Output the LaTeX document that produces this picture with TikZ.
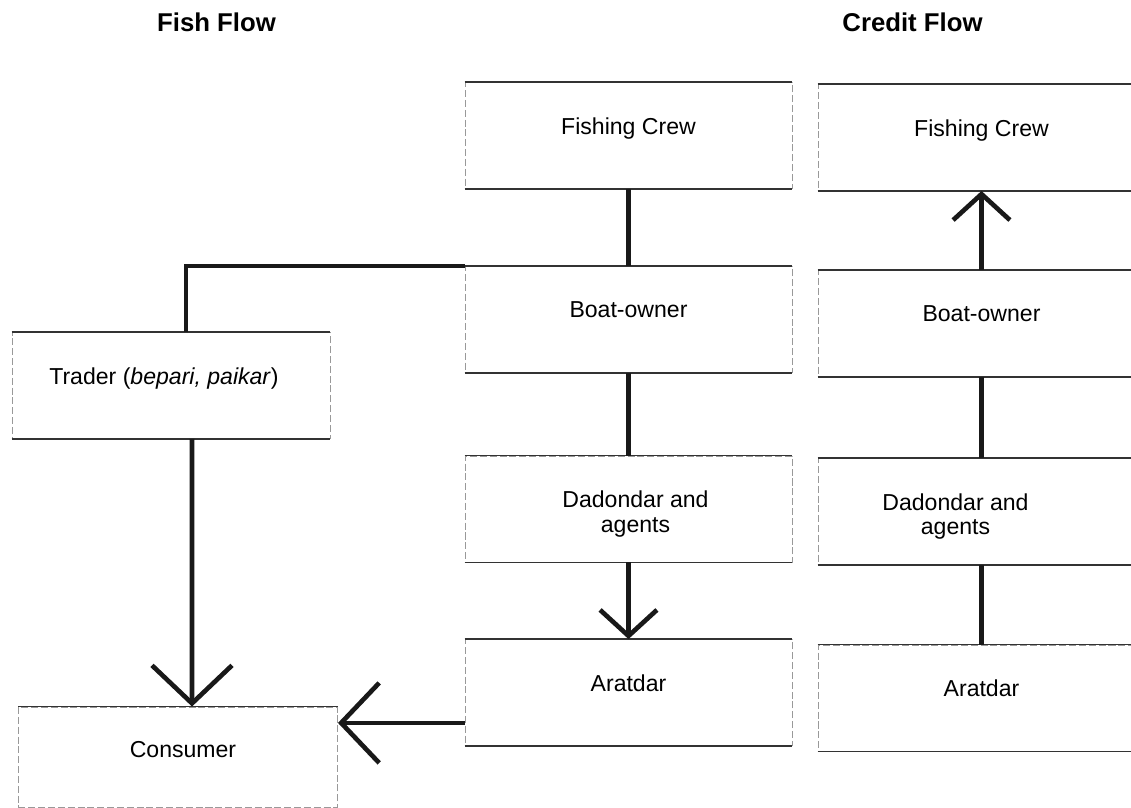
\documentclass[tikz,border=0pt]{standalone}
\usepackage{fontspec}
\setmainfont{Liberation Sans}
\usetikzlibrary{arrows.meta}
\tikzset{
  box/.style={draw=black!40, dash pattern=on 5pt off 2pt, line width=0.6pt, minimum width=8.175cm, minimum height=2.65cm, inner sep=0pt},
  boxtext/.style={anchor=north, yshift=-0.875cm, inner sep=0pt, align=center, font=\fontsize{16.4}{17.5}\selectfont},
  rule/.style={black!80, line width=1.3pt},
  link/.style={black!90, line width=3.3pt},
  bigtip/.style={-{Straight Barb[length=0.95cm, width=2cm]}},
  smalltip/.style={-{Straight Barb[length=0.65cm, width=1.42cm]}},
  title/.style={anchor=base, font=\bfseries\fontsize{18.3}{22}\selectfont}
}

\begin{document}
\begin{tikzpicture}[x=0.025cm, y=-0.025cm]
\path[use as bounding box, clip] (0,0) rectangle (1131,808);
%\draw[step=100,gray,very thin] (0,0) grid (1131,808);
\node[title] (fishttl) at (216.5,32) {Fish Flow};
\node[title] (credttl) at (912.5,32) {Credit Flow};
% fish flow
\node[box, label={[boxtext]north:Fishing Crew}] (lfc) at (628.5,135.5) {};
\node[box, label={[boxtext]north:Boat-owner}] (lbo) at (628.5,319.5) {};
\node[box, label={[boxtext, xshift=0.175cm]north:{Dadondar and\\agents}}] (lda) at (628.5,509) {};
\node[box, label={[boxtext]north:Aratdar}] (lar) at (628.5,692.5) {};
\node[box, minimum width=7.95cm, label={[boxtext, xshift=-0.175cm]north:{Trader (\textit{bepari, paikar})}}] (trader) at (171,385.5) {};
\node[box, minimum width=7.975cm, minimum height=2.5cm, label={[boxtext, xshift=0.125cm]north:Consumer}] (consumer) at (178,757) {};
% credit flow
\node[box, label={[boxtext]north:Fishing Crew}] (rfc) at (981.5,137.5) {};
\node[box, label={[boxtext]north:Boat-owner}] (rbo) at (981.5,323.5) {};
\node[box, label={[boxtext, xshift=-0.65cm]north:{Dadondar and\\agents}}] (rda) at (981.5,511.5) {};
\node[box, label={[boxtext]north:Aratdar}] (rar) at (981.5,698) {};
% solid top and bottom edges
\foreach \b in {lfc,lbo,lda,lar,rfc,rbo,rda,rar,trader}
  \draw[rule] (\b.north west) -- (\b.north east) (\b.south west) -- (\b.south east);
\draw[rule] (consumer.north west) -- (consumer.north east);
% fish flow links
\draw[link] (lfc.south) -- (lbo.north);
\draw[link] (lbo.north west) -| ([xshift=0.375cm]trader.north);
\draw[link] (lbo.south) -- (lda.north);
\draw[link, smalltip] (lda.south) -- (lar.north);
\draw[link, bigtip] ([xshift=0.525cm]trader.south) -- ([xshift=0.35cm]consumer.north);
\coordinate (ajoin) at ([yshift=-0.76cm]lar.west);
\draw[link, bigtip] (ajoin) -- (ajoin -| consumer.east);
% credit flow links
\draw[link, smalltip] (rbo.north) -- (rfc.south);
\draw[link] (rda.north) -- (rbo.south);
\draw[link] (rar.north) -- (rda.south);
\end{tikzpicture}
\end{document}
